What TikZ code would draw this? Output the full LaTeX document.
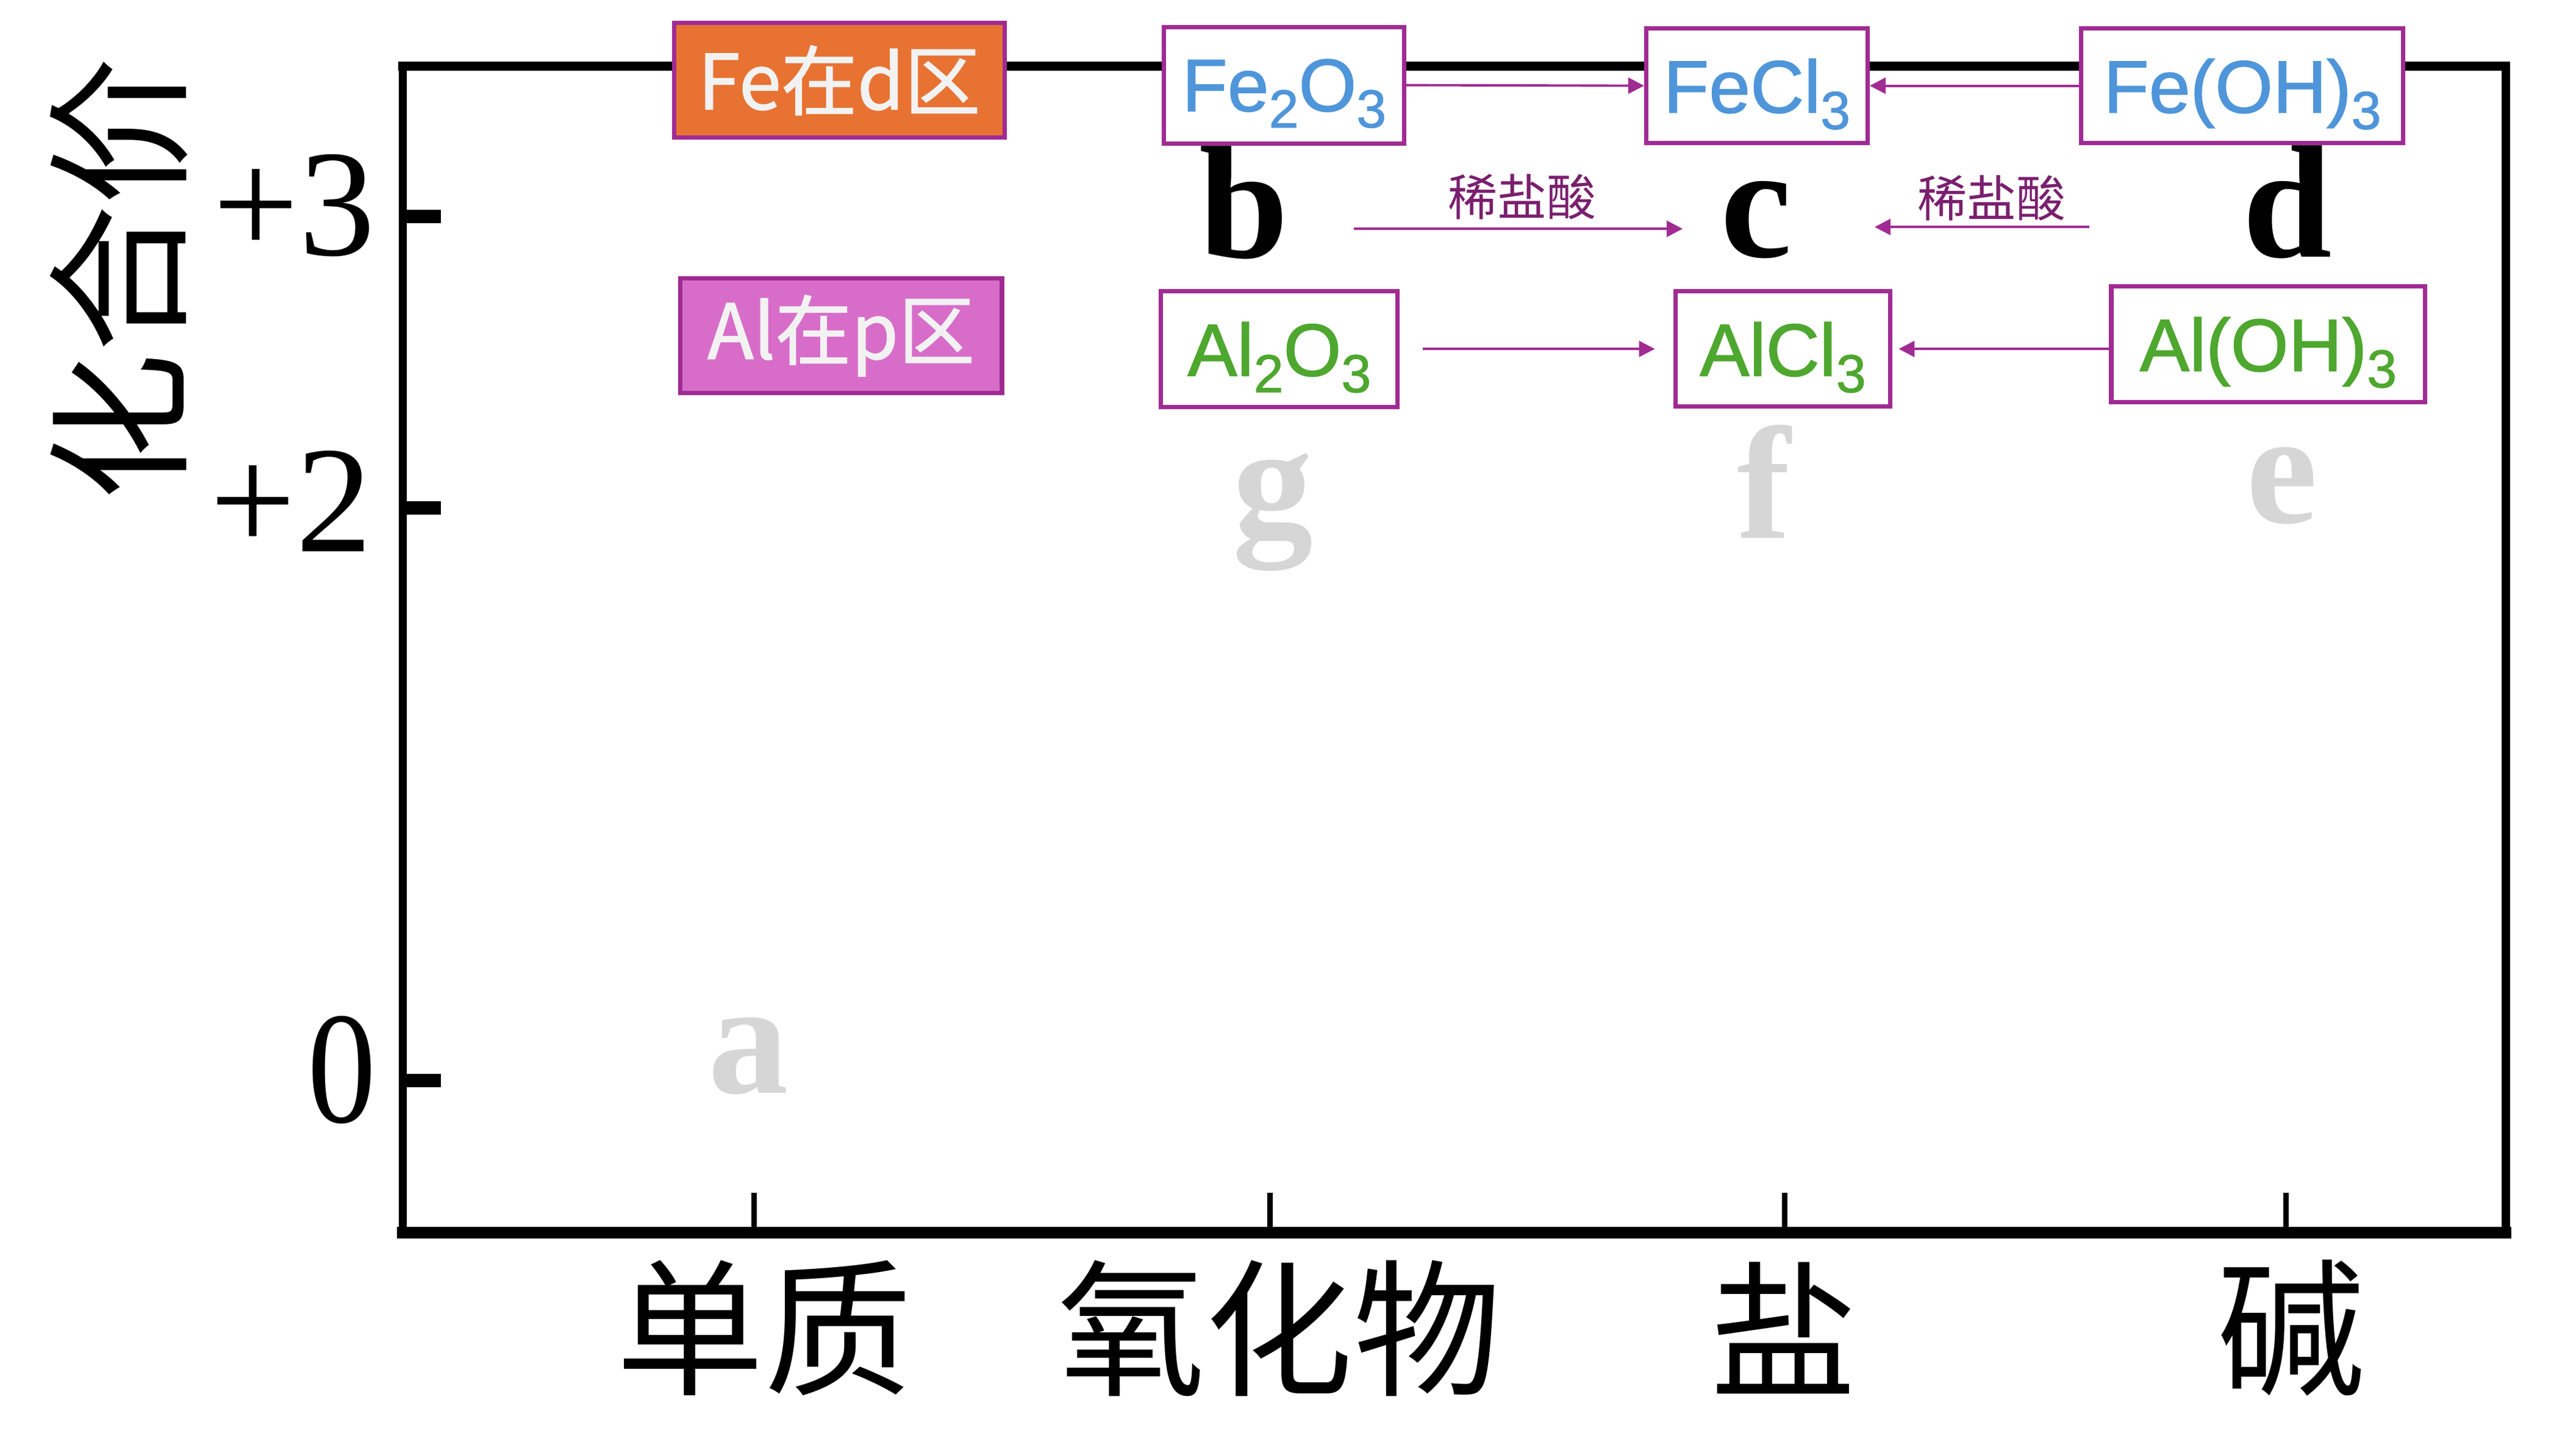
\documentclass[tikz,border=0pt]{standalone}
\usepackage{fontspec}
\setmainfont{Liberation Serif}
\newfontfamily\cjkfont{Noto Sans CJK SC}
\newfontfamily\zonefont[FakeBold=1.2]{Noto Sans CJK SC}
\newfontfamily\arialfont[FakeBold=1.2]{Liberation Sans}
\usetikzlibrary{arrows.meta}
\definecolor{boxpurple}{HTML}{A02B93}
\definecolor{feorange}{HTML}{E87232}
\definecolor{alpink}{HTML}{D86DC9}
\definecolor{feblue}{HTML}{4F95DA}
\definecolor{algreen}{HTML}{4EA72E}
\definecolor{lblpurple}{HTML}{7A1F6E}
\definecolor{ghostgray}{HTML}{D6D6D6}
\definecolor{offwhite}{HTML}{F2F2F2}
\newcommand\chemsub[1]{\raisebox{-0.22em}{\scalebox{0.72}{#1}}}
\begin{document}
\begin{tikzpicture}[x=0.0099cm,y=-0.0099cm,
  framebox/.style={draw=boxpurple,line width=2pt,fill=white,inner sep=0pt,text depth=0pt,
    font=\arialfont\fontsize{34.7}{34.7}\selectfont},
  zonebox/.style={draw=boxpurple,line width=2pt,inner sep=0pt,text=offwhite,
    font=\zonefont\fontsize{35.5}{35.5}\selectfont},
  arr/.style={draw=boxpurple,line width=1.1pt,-{Triangle[length=0.26cm,width=0.26cm]}},
  acid/.style={text=lblpurple,inner sep=0pt,font=\cjkfont\fontsize{23}{23}\selectfont},
  bigletter/.style={inner sep=0pt,anchor=base,font=\bfseries\fontsize{75}{75}\selectfont},
  ghost/.style={inner sep=0pt,anchor=base,text=ghostgray,font=\bfseries\fontsize{75}{75}\selectfont},
  ynum/.style={inner sep=0pt,anchor=east,font=\fontsize{71}{71}\selectfont},
  cjklabel/.style={inner sep=0pt,font=\cjkfont\fontsize{69}{69}\selectfont},
  axisline/.style={line cap=rect},
]
\useasboundingbox (0,0) rectangle (4266.7,2373.7);
% frame
\coordinate (TL) at (667,110);
\coordinate (TR) at (4150,110);
\coordinate (BL) at (667,2042);
\coordinate (BR) at (4150,2042);
\draw[axisline,line width=0.15cm] (TL) -- (TR);
\draw[axisline,line width=0.19cm] (BL) -- (BR);
\draw[axisline,line width=0.13cm] (TL) -- (BL);
\draw[axisline,line width=0.14cm] (TR) -- (BR);
% y ticks
\draw[line width=0.22cm] (667,359) -- (730,359);
\draw[line width=0.22cm] (667,841) -- (730,841);
\draw[line width=0.22cm] (667,1790) -- (730,1790);
% x ticks
\foreach \xx in {1249,2104,2956,3786}
  \draw[line width=0.09cm] (\xx,2042) -- (\xx,1976);
% y labels
\node[ynum] (p3) at (622,341) {+3};
\node[ynum] (p2) at (617,830) {+2};
\node[ynum] (z0) at (624,1772) {\scalebox{0.9}[1.05]{0}};
\node[cjklabel,rotate=90] (ytitle) at (197,462) {化合价};
% x labels
\node[cjklabel] (xl1) at (1266,2200) {单质};
\node[cjklabel] (xl2) at (2119,2200) {氧化物};
\node[cjklabel] (xl3) at (2954,2200) {盐};
\node[cjklabel] (xl4) at (3795,2200) {碱};
% ghost letters
\node[ghost] (la) at (1240,1811) {a};
\node[ghost] (lg) at (2108,887) {g};
\node[ghost] (lf) at (2922,891) {f};
\node[ghost] (le) at (3780,866) {e};
% bold letters
\node[bigletter] (lb) at (2060,427) {b};
\node[bigletter] (lc) at (2909,426) {c};
\node[bigletter] (ld) at (3789,426) {d};
% zone boxes
\node[zonebox,fill=feorange,minimum width=5.42cm,minimum height=1.88cm] (fezone) at (1390,133) {Fe在d区};
\node[zonebox,fill=alpink,minimum width=5.28cm,minimum height=1.88cm] (alzone) at (1393,556) {Al在p区};
% formula boxes
\node[framebox,text=feblue,minimum width=3.94cm,minimum height=1.91cm] (fe2o3) at (2127,141) {Fe\chemsub{2}O\chemsub{3}};
\node[framebox,text=feblue,minimum width=3.63cm,minimum height=1.88cm] (fecl3) at (2910,142) {FeCl\chemsub{3}};
\node[framebox,text=feblue,minimum width=5.28cm,minimum height=1.88cm] (feoh3) at (3714,142) {Fe(OH)\chemsub{3}};
\node[framebox,text=algreen,minimum width=3.88cm,minimum height=1.90cm] (al2o3) at (2119,578) {Al\chemsub{2}O\chemsub{3}};
\node[framebox,text=algreen,minimum width=3.53cm,minimum height=1.89cm] (alcl3) at (2953,578) {AlCl\chemsub{3}};
\node[framebox,text=algreen,minimum width=5.15cm,minimum height=1.90cm] (aloh3) at (3757,570) {Al(OH)\chemsub{3}};
% arrows between boxes
\draw[arr] (fe2o3.east) -- (fecl3.west);
\draw[arr] (feoh3.west) -- (fecl3.east);
\draw[arr,shorten <=0.38cm,shorten >=0.3cm] (al2o3.east) -- (alcl3.west);
\draw[arr,shorten >=0.1cm] (aloh3.west |- alcl3.east) -- (alcl3.east);
% acid arrows
\coordinate (r1a) at (2242,379);
\coordinate (r1b) at (2787,379);
\coordinate (r2a) at (3461,376);
\coordinate (r2b) at (3105,376);
\draw[arr] (r1a) -- (r1b);
\draw[arr] (r2a) -- (r2b);
\node[acid] (acid1) at (2521,326) {稀盐酸};
\node[acid] (acid2) at (3299,328) {稀盐酸};
\end{tikzpicture}
\end{document}
